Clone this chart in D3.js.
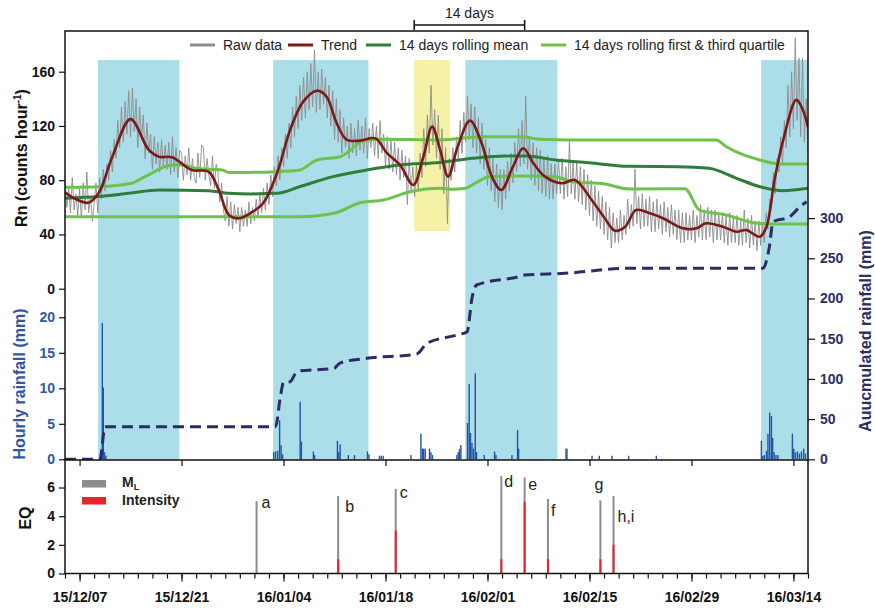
<!DOCTYPE html>
<html>
<head>
<meta charset="utf-8">
<script src="https://cdn.jsdelivr.net/npm/d3@7"></script>
<style>
  body { margin: 0; background: #fff; }
  svg text { font-family: "Liberation Sans", Arial, sans-serif; }
</style>
</head>
<body>
<div id="chart"></div>
<script>
// all x values are days since 2015-12-05 (UTC)

// raw Rn, four readings per day
const rawValues = [
  80,60,74,56, 82,58,70,54, 74,52,78,58, 86,56,68,50, 62,78,56,82,
  66,88,72,92, 80,102,86,110, 96,124,104,134, 108,138,114,146, 112,148,116,140,
  104,134,110,128, 96,122,100,114, 88,112,92,108, 86,110,90,106, 88,108,84,112,
  86,104,82,102, 100,80,98,84, 104,80,96,82, 78,100,82,106, 104,80,96,84,
  76,98,74,92, 86,64,78,58, 50,68,46,64, 44,62,48,60, 42,60,46,58,
  46,64,48,60, 50,66,52,70, 56,74,58,78, 62,84,68,90, 76,98,80,104,
  90,114,96,122, 104,134,112,142, 118,150,124,156, 126,160,132,166, 134,176,130,160,
  132,162,136,156, 126,150,120,146, 110,140,108,132, 100,126,104,120, 96,122,100,118,
  98,124,102,120, 100,126,96,118, 104,122,98,120, 96,124,100,114, 90,112,88,110,
  86,108,84,104, 80,102,82,98, 62,96,72,90, 68,92,72,100, 82,118,90,128,
  100,150,106,132, 96,128,88,118, 70,104,48,96, 80,104,86,112, 96,124,100,130,
  108,142,110,136, 104,134,100,126, 92,122,88,110, 76,104,72,96, 64,92,60,88,
  58,88,66,94, 72,100,78,108, 86,118,90,124, 92,142,88,112, 80,108,76,104,
  72,102,70,96, 68,98,66,92, 66,92,70,96, 70,96,66,90, 68,110,70,94,
  66,94,64,90, 62,88,58,84, 54,80,50,76, 46,72,44,68, 40,64,36,60,
  30,56,34,52, 34,58,36,54, 40,66,44,62, 46,88,48,68, 44,70,46,66,
  46,68,42,64, 42,66,44,62, 40,64,42,60, 38,62,40,58, 36,58,34,56,
  34,56,36,54, 36,58,34,54, 38,62,36,58, 36,60,38,58, 34,58,36,56,
  36,56,34,54, 32,56,34,52, 34,54,32,50, 32,58,34,52, 30,54,32,50,
  28,50,32,48, 34,56,44,66, 62,86,70,96, 86,112,92,124, 104,150,112,160,
  118,185,124,170, 112,170,108,140, 100
];
const rawStep = 0.25;

const trendDays = [0, 1.5, 3.2, 4.6, 6.5, 9.0, 11.5, 12.9, 14.7, 17.4, 19.7, 21.1, 22.5, 23.9, 25.4,
  27.2, 29.1, 30.9, 32.7, 34.6, 35.9, 37.3, 38.7, 40.5, 42.6, 44.2, 46.0, 47.8, 49.2, 50.4,
  51.5, 52.6, 53.9, 55.6, 57.2, 58.6, 59.9, 61.5, 62.9, 64.3, 65.9, 68.2, 70.0, 72.3, 74.1,
  75.5, 76.9, 78.4, 80.3, 82.1, 84.8, 86.7, 88.0, 90.3, 92.2, 93.5, 95.4, 96.3, 97.4, 98.6,
  100.4, 101.3, 102];
const trendValues = [71, 66, 63.4, 70.3, 97.3, 125, 102.3, 97.3, 96.9, 87.5, 86.3, 72.8, 54.3, 51.9, 55.6,
  63, 85.1, 117, 137.9, 146, 141.6, 122, 109.7, 109.2, 110.9, 99.9, 91.2, 76.5, 97.3, 119.5,
  102.3, 82.6, 104.7, 123.9, 107.2, 82.6, 72.8, 90, 103.5, 92.5, 82.6, 77.7, 80.2, 65.4, 51.9,
  42.8, 45.7, 58, 55.6, 51.9, 44.5, 44.5, 48.2, 45.7, 42, 43.3, 38.3, 45.7, 80.2, 109.7,
  139.2, 131.8, 119];

const meanDays = [0, 4.6, 8.7, 12.9, 19.7, 22.5, 25.5, 29.1, 32.2, 36.8, 41.4, 46.0, 51.5, 56.0, 60.5,
  63.3, 67.3, 71.9, 77.3, 84.0, 88.4, 92.2, 95.4, 98.6, 102];
const meanValues = [66.7, 67.9, 70.3, 72.8, 72.3, 70.3, 69.9, 70.3, 75.2, 82.6, 87.5, 91.2, 93.1, 96.2, 97.9,
  97.9, 94.9, 92.9, 90.3, 90, 88.8, 81.4, 75.2, 72.3, 74];

const q3Days = [0, 4.6, 9.1, 11.0, 14.7, 16.1, 17.9, 21.6, 22.5, 29.1, 32.2, 34.6, 37.8, 38.9, 41.0,
  43.7, 51.5, 57.0, 62.8, 65.1, 69.6, 89.4, 90.8, 95.4, 98.1, 102];
const q3Values = [74.8, 75.2, 77.7, 82.6, 91.2, 91.2, 88.8, 87.5, 85.6, 86.3, 87.5, 94.9, 97.3, 101, 109.2,
  110.2, 109.7, 112.1, 112.1, 110.2, 109.7, 109.7, 104.7, 94.9, 92, 92];

const q1Days = [0, 32.2, 37.2, 40.5, 43.7, 47.4, 51.5, 53.1, 55.0, 56.1, 58.3, 62.9, 67.3, 69.6, 74.1,
  77.3, 85.1, 87.1, 90.8, 94.5, 97.2, 102];
const q1Values = [53.1, 53.1, 56, 63.4, 65.4, 71.5, 74, 73.3, 74, 77.2, 82.6, 83.1, 82.6, 78.9, 77.2,
  73.6, 73.7, 58, 54.3, 48.7, 47.7, 47.7];

// accumulated rainfall (mm)
const accDays = [0, 4.8, 5.5, 28.9, 29.6, 30.0, 30.9, 31.6, 32.3, 36.9, 37.8, 41.4, 48.3, 49.7, 53.8,
  55.2, 55.9, 56.5, 62.2, 63.1, 68.6, 77.3, 95.8, 96.7, 97.2, 99.5, 100.9, 101.8];
const accValues = [0, 0, 40.5, 40.5, 80, 95.8, 96.5, 106, 110, 113, 120, 125.6, 131, 144.3, 154.6,
  158.7, 202, 216.8, 227, 229.2, 231.3, 237.6, 237.6, 264.4, 295.5, 301.7, 314.2, 320.4];

// hourly rainfall (mm)
const rainDays = [5.0, 5.12, 5.26, 5.43, 5.63, 28.64, 28.9, 29.19, 29.46, 29.67, 29.88, 32.28, 32.45,
  34.1, 34.27, 37.4, 37.58, 37.77, 38.9, 39.74, 41.52, 41.73, 43.17, 43.41, 43.68, 47.49,
  48.86, 49.07, 49.24, 49.45, 50.04, 50.23, 50.45, 53.8, 53.98, 54.16, 54.35, 55.26, 55.49,
  55.67, 55.87, 56.09, 56.32, 56.5, 57.55, 58.97, 59.16, 61.36, 62.13, 62.27, 68.78, 68.91,
  72.35, 73.35, 75.1, 77.38, 81.18, 95.6, 95.8, 96.0, 96.3, 96.5, 96.74, 96.98, 97.15, 97.35,
  97.6, 97.87, 99.86, 100.04, 100.27, 100.55, 100.82, 101.1, 101.4, 101.65];
const rainMm = [0.5, 19.2, 10.1, 1.0, 0.5, 1.0, 1.1, 1.2, 5.5, 2.0, 0.7, 8.1, 2.5,
  1.1, 0.6, 2.6, 1.0, 2.1, 0.6, 0.6, 1.1, 0.7, 0.5, 0.5, 0.5, 0.6,
  3.6, 1.5, 1.5, 1.5, 1.5, 1.0, 0.6, 0.6, 1.0, 1.5, 2.0, 5.1, 10.6,
  3.7, 2.3, 1.5, 12.1, 1.0, 0.6, 1.1, 0.6, 0.6, 4.1, 1.5, 1.5, 1.5,
  0.5, 0.5, 0.5, 0.5, 0.5, 2.6, 0.5, 0.6, 1.2, 3.6, 6.6, 6.1, 3.0, 1.0,
  0.6, 0.6, 3.6, 1.5, 1.0, 1.1, 0.8, 1.1, 1.5, 0.8];

// earthquakes
const eqLabels = ["a", "b", "c", "d", "e", "f", "g", "h,i"];
const eqDays = [26.3, 37.5, 45.4, 59.9, 63.1, 66.3, 73.5, 75.3];
const eqML = [5.05, 5.4, 5.9, 6.8, 6.7, 5.2, 5.1, 5.4];
const eqIntensity = [0, 1, 3, 1, 5, 1, 1, 2];

// shaded periods
const rainSpans = [[4.53, 15.7], [28.57, 41.66], [54.95, 67.6], [95.56, 102]];
const quietSpan = [47.94, 52.88];
const bracketSpan = [47.94, 63.1];

const rnTicks = [0, 40, 80, 120, 160];
const rainTicks = [0, 5, 10, 15, 20];
const accTicks = [0, 50, 100, 150, 200, 250, 300];
const eqTicks = [0, 2, 4, 6];

// ---------------------------------------------------------------
const width = 875, height = 608;
const plotL = 65, plotR = 808;
const plotT = 31, plotM = 460, plotB = 573.5;

const dayStart = Date.UTC(2015, 11, 5);
const toDate = d => new Date(dayStart + d * 864e5);

const x = d3.scaleUtc().domain([toDate(0), toDate(102)]).range([plotL, plotR]);
const yRn = d3.scaleLinear().domain([0, 190]).range([288.7, plotT]);
const yRain = d3.scaleLinear().domain([0, 20]).range([459.3, 317.3]);
const yAcc = d3.scaleLinear().domain([0, 300]).range([459.3, 218.1]);
const yEq = d3.scaleLinear().domain([0, 7.92]).range([plotB, plotM]);

const svg = d3.select("#chart").append("svg")
  .attr("width", width)
  .attr("height", height);

svg.append("clipPath").attr("id", "clipTop")
  .append("rect").attr("x", plotL).attr("y", plotT).attr("width", plotR - plotL).attr("height", plotM - plotT);

const plot = svg.append("g").attr("clip-path", "url(#clipTop)");

// shading
plot.selectAll("rect.rain")
  .data(rainSpans)
  .join("rect")
  .attr("class", "rain")
  .attr("x", d => x(toDate(d[0])))
  .attr("width", d => x(toDate(d[1])) - x(toDate(d[0])))
  .attr("y", yRn(168.6))
  .attr("height", plotM - yRn(168.6))
  .attr("fill", "#acdeea");

plot.append("rect")
  .attr("x", x(toDate(quietSpan[0])))
  .attr("width", x(toDate(quietSpan[1])) - x(toDate(quietSpan[0])))
  .attr("y", yRn(168.6))
  .attr("height", yRn(42.5) - yRn(168.6))
  .attr("fill", "#f5f2a8");

// hourly rainfall bars
plot.append("g")
  .selectAll("rect")
  .data(rainDays.map((d, i) => ({ d, v: rainMm[i] })))
  .join("rect")
  .attr("x", d => x(toDate(d.d)) - 0.7)
  .attr("width", 1.4)
  .attr("y", d => yRain(d.v))
  .attr("height", d => yRain(0) - yRain(d.v))
  .attr("fill", "#2453a6");

// raw data
const rawLine = d3.line()
  .x((v, i) => x(toDate(i * rawStep)))
  .y(v => yRn(v));
plot.append("path")
  .attr("d", rawLine(rawValues))
  .attr("fill", "none")
  .attr("stroke", "#8c8c8c")
  .attr("stroke-width", 0.9);

function series(days, vals, curve) {
  return d3.line().curve(curve)
    .x((v, i) => x(toDate(days[i])))
    .y(v => yRn(v))(vals);
}

plot.append("path")
  .attr("d", series(q3Days, q3Values, d3.curveMonotoneX))
  .attr("fill", "none").attr("stroke", "#6cc24a").attr("stroke-width", 3);
plot.append("path")
  .attr("d", series(q1Days, q1Values, d3.curveMonotoneX))
  .attr("fill", "none").attr("stroke", "#6cc24a").attr("stroke-width", 3);
plot.append("path")
  .attr("d", series(meanDays, meanValues, d3.curveMonotoneX))
  .attr("fill", "none").attr("stroke", "#2e7d3b").attr("stroke-width", 3);
plot.append("path")
  .attr("d", series(trendDays, trendValues, d3.curveCatmullRom.alpha(0.5)))
  .attr("fill", "none").attr("stroke", "#7c1a1a").attr("stroke-width", 2.6);

// accumulated rainfall
const accLine = d3.line().curve(d3.curveMonotoneX)
  .x((v, i) => x(toDate(accDays[i])))
  .y(v => yAcc(v));
plot.append("path")
  .attr("d", accLine(accValues))
  .attr("fill", "none")
  .attr("stroke", "#2b2c63")
  .attr("stroke-width", 3)
  .attr("stroke-dasharray", "11,6");

// EQ bars
const eq = svg.append("g")
  .selectAll("g")
  .data(eqLabels.map((l, i) => ({ l, d: eqDays[i], ml: eqML[i], it: eqIntensity[i] })))
  .join("g");
eq.append("rect")
  .attr("x", d => x(toDate(d.d)) - 1)
  .attr("width", 2)
  .attr("y", d => yEq(d.ml))
  .attr("height", d => plotB - yEq(d.ml))
  .attr("fill", "#8c8c8c");
eq.append("rect")
  .attr("x", d => x(toDate(d.d)) - 1)
  .attr("width", 2)
  .attr("y", d => yEq(d.it))
  .attr("height", d => plotB - yEq(d.it))
  .attr("fill", "#e8232a");

const labelOffset = { "a": [5, 7], "b": [7, 16], "c": [4, 9], "d": [3, 11], "e": [3.5, 13],
  "f": [3, 17], "g": [-6, -10], "h,i": [4, 26] };
eq.append("text")
  .attr("x", d => x(toDate(d.d)) + labelOffset[d.l][0])
  .attr("y", d => yEq(d.ml) + labelOffset[d.l][1])
  .attr("font-size", 16)
  .attr("fill", "#222")
  .text(d => d.l);

// axes
function styleAxis(g) {
  g.select(".domain").remove();
  g.selectAll(".tick line").attr("stroke", "#111").attr("stroke-width", 1.2);
  g.selectAll(".tick text").attr("font-size", 14).attr("font-weight", "bold")
    .attr("font-family", "Liberation Sans, Arial, sans-serif");
}

svg.append("g").attr("transform", `translate(${plotL},0)`)
  .call(d3.axisLeft(yRn).tickValues(rnTicks).tickSize(6).tickPadding(4))
  .call(styleAxis)
  .selectAll(".tick text").attr("fill", "#111");

svg.append("g").attr("transform", `translate(${plotL},0)`)
  .call(d3.axisLeft(yRain).tickValues(rainTicks).tickSize(6).tickPadding(4))
  .call(styleAxis)
  .selectAll(".tick text").attr("fill", "#2f57a8");

svg.append("g").attr("transform", `translate(${plotR},0)`)
  .call(d3.axisRight(yAcc).tickValues(accTicks).tickSize(7).tickPadding(5))
  .call(styleAxis)
  .selectAll(".tick text").attr("fill", "#2d2e66");

svg.append("g").attr("transform", `translate(${plotL},0)`)
  .call(d3.axisLeft(yEq).tickValues(eqTicks).tickSize(6).tickPadding(4))
  .call(styleAxis)
  .selectAll(".tick text").attr("fill", "#111");

const fmt = d3.utcFormat("%y/%m/%d");
const majorTicks = d3.utcDay.range(toDate(2), toDate(102), 14);
const minorTicks = d3.utcDay.range(toDate(0), toDate(103), 2);

svg.append("g").attr("transform", `translate(0,${plotM})`)
  .call(d3.axisBottom(x).tickValues(majorTicks).tickSize(6).tickFormat(""))
  .call(styleAxis);

svg.append("g").attr("transform", `translate(0,${plotB})`)
  .call(d3.axisBottom(x).tickValues(minorTicks).tickSize(5).tickFormat(""))
  .call(styleAxis);

svg.append("g").attr("transform", `translate(0,${plotB})`)
  .call(d3.axisBottom(x).tickValues(majorTicks).tickSize(8).tickPadding(11).tickFormat(fmt))
  .call(styleAxis)
  .selectAll(".tick text").attr("fill", "#111");

// frame
const frame = svg.append("g").attr("stroke", "#111").attr("stroke-width", 1.5).attr("fill", "none");
frame.append("rect").attr("x", plotL).attr("y", plotT).attr("width", plotR - plotL).attr("height", plotB - plotT);
frame.append("line").attr("x1", plotL).attr("x2", plotR).attr("y1", plotM).attr("y2", plotM);

// axis titles
const rnTitle = svg.append("text")
  .attr("transform", "translate(27,158) rotate(-90)")
  .attr("text-anchor", "middle")
  .attr("font-size", 16).attr("font-weight", "bold").attr("fill", "#111");
rnTitle.append("tspan").text("Rn (counts hour");
rnTitle.append("tspan").attr("dy", -6).attr("font-size", 10).text("-1");
rnTitle.append("tspan").attr("dy", 6).text(")");

svg.append("text")
  .attr("transform", "translate(25,384) rotate(-90)")
  .attr("text-anchor", "middle")
  .attr("font-size", 16).attr("font-weight", "bold").attr("fill", "#2f57a8")
  .text("Hourly rainfall (mm)");

svg.append("text")
  .attr("transform", "translate(31,518) rotate(-90)")
  .attr("text-anchor", "middle")
  .attr("font-size", 16).attr("font-weight", "bold").attr("fill", "#111")
  .text("EQ");

svg.append("text")
  .attr("transform", "translate(871,331) rotate(-90)")
  .attr("text-anchor", "middle")
  .attr("font-size", 16).attr("font-weight", "bold").attr("fill", "#2d2e66")
  .text("Auucmulated rainfall (mm)");

// top legend
const legendItems = [
  { label: "Raw data", color: "#8c8c8c", x: 190 },
  { label: "Trend", color: "#7c1a1a", x: 288 },
  { label: "14 days rolling mean", color: "#2e7d3b", x: 366 },
  { label: "14 days rolling first & third quartile", color: "#6cc24a", x: 541 }
];
const legend = svg.append("g")
  .selectAll("g")
  .data(legendItems)
  .join("g")
  .attr("transform", d => `translate(${d.x},45)`);
legend.append("line")
  .attr("x1", 0).attr("x2", 25)
  .attr("stroke", d => d.color).attr("stroke-width", 3);
legend.append("text")
  .attr("x", 33).attr("y", 5)
  .attr("font-size", 14).attr("fill", "#222")
  .text(d => d.label);

// 14 days bracket
const bx0 = x(toDate(bracketSpan[0])), bx1 = x(toDate(bracketSpan[1]));
const bracket = svg.append("g").attr("stroke", "#111").attr("stroke-width", 1.5);
bracket.append("line").attr("x1", bx0).attr("x2", bx1).attr("y1", 25).attr("y2", 25);
bracket.append("line").attr("x1", bx0).attr("x2", bx0).attr("y1", 20).attr("y2", 30);
bracket.append("line").attr("x1", bx1).attr("x2", bx1).attr("y1", 20).attr("y2", 30);
svg.append("text")
  .attr("x", (bx0 + bx1) / 2).attr("y", 18)
  .attr("text-anchor", "middle")
  .attr("font-size", 14).attr("fill", "#222")
  .text("14 days");

// EQ legend
const eqLegend = svg.append("g").attr("transform", "translate(82,480)");
eqLegend.append("rect").attr("width", 24).attr("height", 7.5).attr("fill", "#8c8c8c");
eqLegend.append("rect").attr("y", 17).attr("width", 24).attr("height", 7.5).attr("fill", "#e8232a");
const ml = eqLegend.append("text").attr("x", 40).attr("y", 7)
  .attr("font-size", 14).attr("font-weight", "bold").attr("fill", "#222");
ml.append("tspan").text("M");
ml.append("tspan").attr("dy", 3).attr("font-size", 9).text("L");
eqLegend.append("text").attr("x", 40).attr("y", 25)
  .attr("font-size", 14).attr("font-weight", "bold").attr("fill", "#222")
  .text("Intensity");
</script>
</body>
</html>
